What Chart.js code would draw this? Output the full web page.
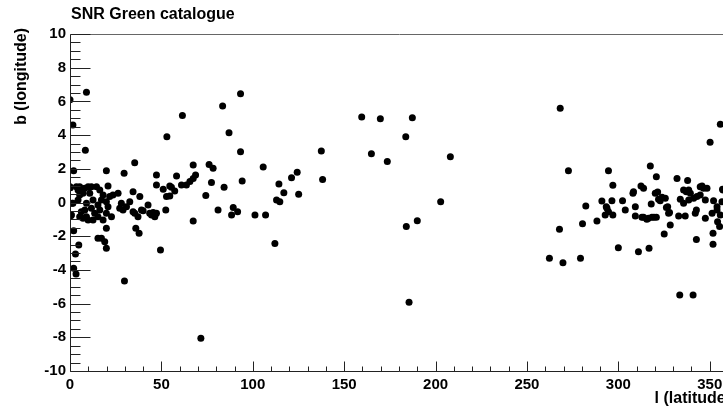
<!DOCTYPE html>
<html>
<head>
<meta charset="utf-8">
<script src="https://cdn.jsdelivr.net/npm/chart.js@4"></script>
<style>
  html, body { margin: 0; padding: 0; overflow: hidden; background: #fff; }
  canvas { display: block; }
</style>
</head>
<body>
<canvas id="snrChart" width="760" height="408"></canvas>
<script>
// galactic coordinates
const lValues = [
  0.0, 1.6, 9.0, 53.0, 61.5, 83.5, 93.3, 87.0, 159.6, 169.8, 187.3, 183.7, 268.2, 355.8, 350.2,
  8.4, 2.0, 0.2, 1.1, 0.4, 2.0, 4.8, 3.0, 2.0, 3.3, 29.8, 71.6,
  19.9, 35.4, 29.6, 47.3, 58.3, 47.3, 51.0, 54.6, 57.3, 52.4, 49.5, 47.3, 46.4, 43.6, 42.7,
  38.2, 34.5, 39.1, 37.2, 36.0, 37.8, 34.5, 32.7, 30.9, 29.0, 27.2, 28.1, 26.3, 23.5, 20.8,
  21.7, 19.9, 20.8, 19.9, 22.7, 18.1, 19.9, 15.3, 16.3, 15.3, 17.2, 18.1, 16.3, 14.5, 17.2,
  19.0, 19.9, 15.3, 12.6, 13.5, 11.7, 12.6, 10.8, 11.7, 9.9, 8.1, 7.1, 9.0, 8.1, 9.0, 9.9,
  7.1, 5.3, 6.2, 4.4, 5.3, 4.4, 5.3, 6.2, 3.5, 0.8, 1.6, 0.0, 35.4,
  61.0, 63.7, 65.6, 67.4, 68.7, 67.4, 55.5, 52.8, 54.6, 67.4, 74.3, 76.1, 78.3, 77.4, 81.0,
  84.3, 88.4, 89.3, 91.7, 93.3, 94.2, 45.5, 44.6, 40.0,
  105.7, 101.2, 107.0, 114.3, 117.0, 113.0, 114.8, 121.2, 124.3, 125.1, 112.1, 137.5, 138.2,
  164.9, 173.6, 208.1, 202.8, 190.0, 184.0, 185.5,
  272.7, 262.3, 269.7, 279.3, 267.8, 280.4, 282.2, 288.3, 291.0, 294.6, 297.0, 296.5, 293.8,
  294.6, 292.8, 297.0, 302.3, 303.8, 300.0, 309.3, 309.3, 308.0, 308.3, 312.4, 313.8, 311.0,
  313.8, 315.6, 318.4, 320.8, 318.0, 316.8, 317.5, 320.8, 320.2, 321.5, 322.9, 325.7, 326.3,
  327.5, 328.4, 325.1, 332.1, 333.0, 333.9, 336.6, 335.7, 337.2, 338.5, 337.9, 338.5, 341.2,
  342.7, 342.1, 342.7, 344.8, 345.8, 347.6, 348.5, 351.3, 352.1, 351.8, 351.8, 354.0, 354.3,
  355.4, 355.8, 356.7, 357.0, 333.6, 340.9,
  293.4, 312.9, 316.5, 319.5, 322.0, 323.9, 327.0, 328.0, 335.7, 339.4, 343.0, 344.8, 346.6,
  347.6, 354.0, 357.3
];
const bValues = [
  6.1, 4.6, 6.55, 3.9, 5.17, 5.73, 6.46, 4.14, 5.07, 4.97, 5.03, 3.9, 5.59, 4.64, 3.57,
  3.1, 1.89, 0.88, -0.05, -0.78, -1.67, -2.52, -3.06, -3.9, -4.24, -4.66, -8.06,
  1.89, 2.36, 1.73, 1.63, 1.57, 1.04, 0.78, 0.98, 0.68, -0.45, -2.82, -0.64, -0.84, -0.64, -0.15,
  0.35, 0.64, -0.45, -0.84, -1.53, -1.83, -0.55, 0.05, -0.25, -0.45, -0.34, -0.05, 0.55, 0.45, 0.98,
  0.35, 0.05, -0.25, -0.64, -0.84, -1.04, -1.53, -0.84, -0.45, -0.15, 0.15, 0.45, 0.74, 0.94, -2.12,
  -2.33, -2.72, -2.12, -1.04, -0.64, -0.34, 0.15, 0.55, 0.94, 0.94, 0.84, 0.55, -0.05, -0.45, -0.84, -1.04,
  -0.94, -0.84, -0.55, 0.15, 0.45, 0.74, 0.94, 0.64, 0.94, -0.74, -0.05, 0.94, -0.64,
  1.04, 1.04, 1.24, 1.43, 1.63, 2.23, 0.9, 0.35, 0.39, -1.1, 0.42, 2.26, 2.03, 1.18, -0.45,
  0.9, -0.74, -0.29, -0.55, 3.01, 1.28, -0.6, -0.74, -0.49,
  2.11, -0.74, -0.74, 1.1, 0.58, 0.15, 0.05, 1.47, 1.79, 0.49, -2.44, 3.06, 1.36,
  2.9, 2.44, 2.72, 0.05, -1.08, -1.43, -5.92,
  1.89, -3.31, -3.57, -3.31, -1.59, -1.26, -0.21, -1.1, 0.09, 1.89, 1.02, 0.11, -0.34,
  -0.55, -0.74, -0.74, 0.11, -0.45, -2.68, -0.8, -0.25, 0.55, 0.64, 0.98, 0.84, -2.92,
  -0.88, -1.0, -0.88, -0.88, -0.09, -2.72, 2.17, 1.53, 0.55, 0.62, 0.11, 0.25, -0.29,
  -0.64, -1.34, -1.87, 1.43, -0.8, 0.19, -0.8, 0.74, 0.64, 0.74, 1.3, 0.15, 0.25,
  -0.45, -0.64, -2.19, 0.45, 0.98, -0.94, 0.84, -0.64, 0.11, -1.83, -2.48, -0.45, -1.14,
  -1.43, -0.74, 0.05, 0.78, -5.49, -5.49,
  -0.25, -0.88, -0.94, -0.88, 0.19, 0.31, -0.25, -0.6, -0.05, 0.55, 0.35, 0.94, 0.84,
  0.15, -0.25, 0.74
];
const xTicks = [0, 50, 100, 150, 200, 250, 300, 350];
const yTicks = [-10, -8, -6, -4, -2, 0, 2, 4, 6, 8, 10];

const points = lValues.map((l, i) => ({ x: l, y: bValues[i] }));
const fontFamily = '"Liberation Sans", Arial, Helvetica, sans-serif';

// ROOT style frame with inward ticks, title and axis titles
const rootFrame = {
  id: 'rootFrame',
  afterDraw(chart) {
    const ctx = chart.ctx;
    const a = chart.chartArea;
    const xs = chart.scales.x;
    const ys = chart.scales.y;
    const L = Math.round(a.left) + 0.5, T = Math.round(a.top) + 0.5;
    const R = Math.round(a.right) + 0.5, B = Math.round(a.bottom) + 0.5;
    ctx.save();
    ctx.lineWidth = 1;
    ctx.strokeStyle = '#666';
    ctx.beginPath();
    ctx.moveTo(L, T); ctx.lineTo(R, T); ctx.lineTo(R, B);
    ctx.stroke();
    ctx.strokeStyle = '#222';
    ctx.beginPath();
    ctx.moveTo(L, T); ctx.lineTo(L, B); ctx.lineTo(R, B);
    for (let v = xs.min; v <= xs.max + 1e-6; v += 10) {
      const px = Math.round(xs.getPixelForValue(v)) + 0.5;
      const len = (v % 50 === 0) ? 10 : 5;
      ctx.moveTo(px, B);
      ctx.lineTo(px, B - len);
    }
    for (let v = ys.min; v <= ys.max + 1e-6; v += 0.5) {
      const py = Math.round(ys.getPixelForValue(v)) + 0.5;
      const len = (Math.abs(v % 2) < 1e-6) ? 20 : 10;
      ctx.moveTo(L, py);
      ctx.lineTo(L + len, py);
    }
    ctx.stroke();

    ctx.fillStyle = '#000';
    ctx.font = 'bold 16px ' + fontFamily;
    ctx.textAlign = 'left';
    ctx.textBaseline = 'alphabetic';
    ctx.fillText('SNR Green catalogue', 71, 19);

    ctx.textAlign = 'right';
    ctx.fillText('l (latitude)', 731, 403);

    ctx.translate(26, 28);
    ctx.rotate(-Math.PI / 2);
    ctx.fillText('b (longitude)', 0, 0);
    ctx.restore();
  }
};

const ctx = document.getElementById('snrChart').getContext('2d');
const snrChart = new Chart(ctx, {
  type: 'scatter',
  data: {
    datasets: [{
      label: 'SNR',
      data: points,
      backgroundColor: '#000',
      borderWidth: 0,
      pointRadius: 3.5,
      pointHoverRadius: 3.5
    }]
  },
  options: {
    responsive: false,
    animation: false,
    layout: { padding: { top: 34, right: 32, left: 0, bottom: 0 } },
    plugins: {
      legend: { display: false },
      tooltip: { enabled: false }
    },
    scales: {
      x: {
        type: 'linear',
        min: 0,
        max: 360,
        grid: { display: false, drawTicks: false },
        border: { display: false },
        afterBuildTicks: (scale) => { scale.ticks = xTicks.map(v => ({ value: v })); },
        afterFit: (scale) => { scale.height = 37; },
        ticks: {
          color: '#000',
          padding: 5,
          maxRotation: 0,
          autoSkip: false,
          font: { family: fontFamily, size: 15, weight: 'bold' }
        }
      },
      y: {
        type: 'linear',
        min: -10,
        max: 10,
        grid: { display: false, drawTicks: false },
        border: { display: false },
        afterBuildTicks: (scale) => { scale.ticks = yTicks.map(v => ({ value: v })); },
        afterFit: (scale) => { scale.width = 70; },
        ticks: {
          color: '#000',
          padding: 4,
          autoSkip: false,
          font: { family: fontFamily, size: 15, weight: 'bold' }
        }
      }
    }
  },
  plugins: [rootFrame]
});
</script>
</body>
</html>
